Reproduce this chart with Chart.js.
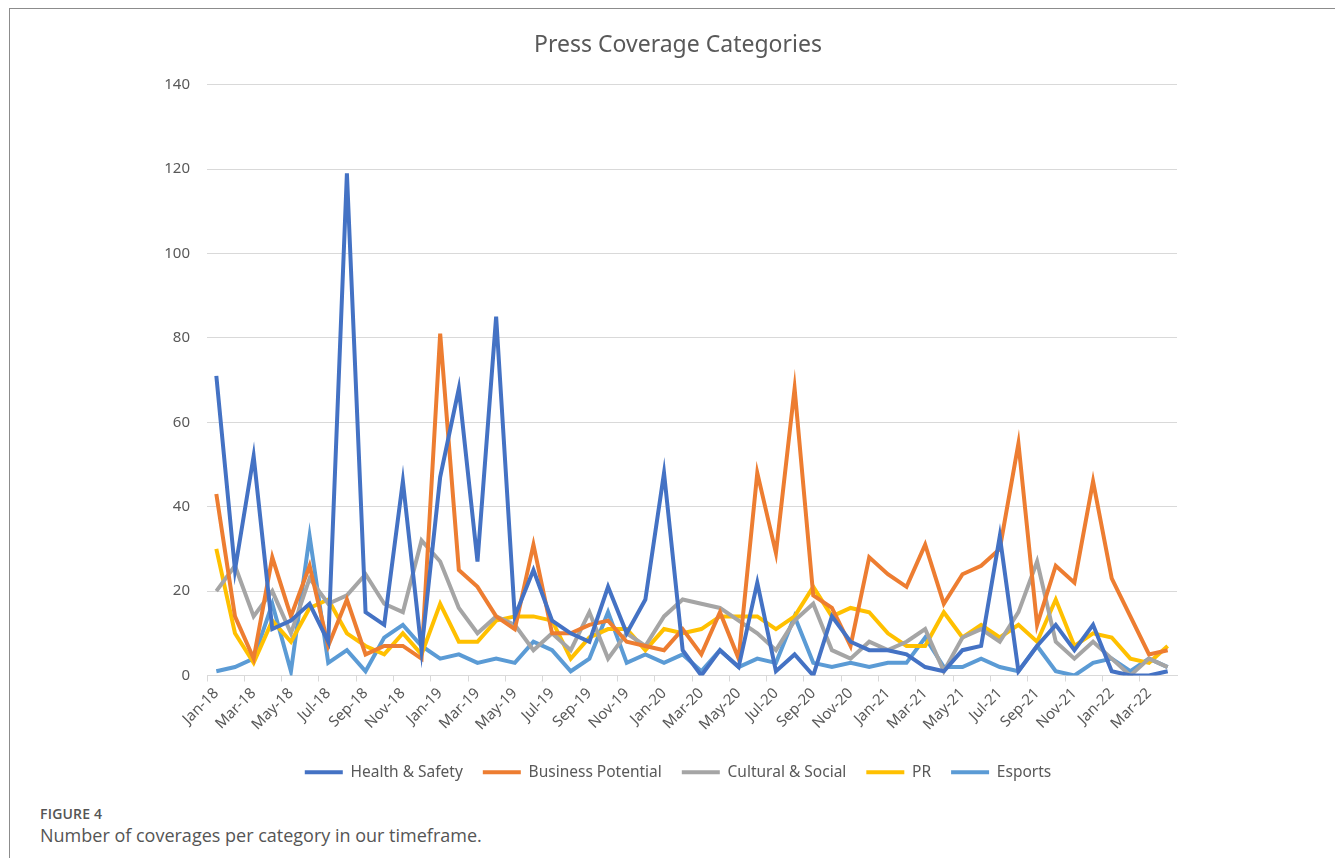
<!DOCTYPE html>
<html>
<head>
<meta charset="utf-8">
<title>Press Coverage Categories</title>
<script src="https://cdn.jsdelivr.net/npm/chart.js@4.4.1/dist/chart.umd.min.js"></script>
<style>
  html, body { margin: 0; padding: 0; background: #fff; }
  body { width: 1335px; height: 858px; position: relative; overflow: hidden; font-family: "Open Sans", "Noto Sans", sans-serif; }
  .frame { position: absolute; left: 9px; top: 8px; width: 1340px; height: 900px; border-left: 1px solid #8c8c8c; border-top: 1px solid #8c8c8c; }
  .chart-box { position: absolute; left: 150px; top: 20px; width: 1056px; height: 775px; }
  .fig-no { position: absolute; left: 40px; top: 804px; font-size: 14px; font-weight: 600; color: #555; letter-spacing: 0.2px; }
  .fig-text { position: absolute; left: 40px; top: 823px; font-size: 18px; color: #555; }
</style>
</head>
<body>
<div class="frame"></div>
<div class="chart-box"><canvas id="coverage"></canvas></div>
<div class="fig-no">FIGURE 4</div>
<div class="fig-text">Number of coverages per category in our timeframe.</div>

<script>
  // monthly counts, Jan-18 .. Apr-22
  const months = [
    "Jan-18", "Feb-18", "Mar-18", "Apr-18", "May-18", "Jun-18", "Jul-18", "Aug-18", "Sep-18", "Oct-18", "Nov-18", "Dec-18",
    "Jan-19", "Feb-19", "Mar-19", "Apr-19", "May-19", "Jun-19", "Jul-19", "Aug-19", "Sep-19", "Oct-19", "Nov-19", "Dec-19",
    "Jan-20", "Feb-20", "Mar-20", "Apr-20", "May-20", "Jun-20", "Jul-20", "Aug-20", "Sep-20", "Oct-20", "Nov-20", "Dec-20",
    "Jan-21", "Feb-21", "Mar-21", "Apr-21", "May-21", "Jun-21", "Jul-21", "Aug-21", "Sep-21", "Oct-21", "Nov-21", "Dec-21",
    "Jan-22", "Feb-22", "Mar-22", "Apr-22"
  ];

  const healthSafety = [71, 25, 52, 11, 13, 17, 8, 119, 15, 12, 46, 6, 47, 68, 27, 85, 14, 25, 13, 10, 8, 21, 10, 18, 48, 6,
    0, 6, 2, 22, 1, 5, 0, 14, 8, 6, 6, 5, 2, 1, 6, 7, 33, 1, 7, 12, 6, 12, 1, 0, 0, 1];
  const businessPotential = [43, 14, 4, 28, 14, 26, 7, 18, 5, 7, 7, 4, 81, 25, 21, 14, 11, 31, 10, 10, 12, 13, 8, 7, 6, 11,
    5, 15, 4, 48, 29, 68, 19, 16, 7, 28, 24, 21, 31, 17, 24, 26, 30, 55, 12, 26, 22, 46, 23, 14, 5, 6];
  const culturalSocial = [20, 26, 14, 20, 10, 23, 17, 19, 24, 17, 15, 32, 27, 16, 10, 14, 12, 6, 10, 6, 15, 4, 10, 7, 14, 18,
    17, 16, 13, 10, 6, 13, 17, 6, 4, 8, 6, 8, 11, 1, 9, 11, 8, 15, 27, 8, 4, 8, 4, 0, 4, 2];
  const pr = [30, 10, 3, 13, 8, 16, 18, 10, 7, 5, 10, 5, 17, 8, 8, 13, 14, 14, 13, 4, 9, 11, 11, 6, 11, 10,
    11, 14, 14, 14, 11, 14, 21, 14, 16, 15, 10, 7, 7, 15, 9, 12, 9, 12, 8, 18, 7, 10, 9, 4, 3, 7];
  const esports = [1, 2, 4, 17, 1, 33, 3, 6, 1, 9, 12, 7, 4, 5, 3, 4, 3, 8, 6, 1, 4, 15, 3, 5, 3, 5,
    1, 6, 2, 4, 3, 14, 3, 2, 3, 2, 3, 3, 9, 2, 2, 4, 2, 1, 7, 1, 0, 3, 4, 1, 4, 2];

  const yTicks = [0, 20, 40, 60, 80, 100, 120, 140];

  const textGrey = "#595959";
  const gridGrey = "#d9d9d9";
  const font = "'Noto Sans', 'Open Sans', sans-serif";

  function series(label, data, color) {
    return {
      label: label,
      data: data,
      borderColor: color,
      backgroundColor: color,
      borderWidth: 4,
      pointRadius: 0,
      pointHoverRadius: 0,
      tension: 0,
      fill: false,
    };
  }

  const ctx = document.getElementById("coverage").getContext("2d");
  new Chart(ctx, {
    type: "line",
    data: {
      labels: months,
      datasets: [
        series("Health & Safety", healthSafety, "#4472C4"),
        series("Business Potential", businessPotential, "#ED7D31"),
        series("Cultural & Social", culturalSocial, "#A5A5A5"),
        series("PR", pr, "#FFC000"),
        series("Esports", esports, "#5B9BD5"),
      ],
    },
    options: {
      responsive: true,
      maintainAspectRatio: false,
      animation: false,
      layout: {
        padding: { left: 0, right: 0, top: 0, bottom: 5 },
      },
      plugins: {
        title: {
          display: true,
          text: "Press Coverage Categories",
          color: textGrey,
          font: { family: font, size: 23, weight: "normal" },
          padding: { top: 12, bottom: 25 },
        },
        legend: {
          display: true,
          position: "bottom",
          labels: {
            color: textGrey,
            font: { family: font, size: 15.5 },
            usePointStyle: true,
            pointStyle: "line",
            pointStyleWidth: 38,
            boxHeight: 4,
            padding: 20,
          },
        },
        tooltip: { enabled: false },
      },
      scales: {
        x: {
          type: "category",
          offset: true,
          border: { display: true, color: gridGrey, width: 1 },
          grid: {
            offset: true,
            drawOnChartArea: false,
            drawTicks: true,
            tickLength: 6,
            color: (c) => (c.index % 2 === 0 ? gridGrey : "rgba(0,0,0,0)"),
          },
          ticks: {
            autoSkip: false,
            maxRotation: 45,
            minRotation: 45,
            padding: 3,
            color: textGrey,
            font: { family: font, size: 15 },
            callback: function (value, index) {
              return index % 2 === 0 ? this.getLabelForValue(value) : "";
            },
          },
          afterFit: (scale) => { scale.height = 69; },
        },
        y: {
          min: 0,
          max: 140,
          border: { display: false },
          grid: { color: gridGrey, lineWidth: 1, drawTicks: false },
          afterBuildTicks: (scale) => { scale.ticks = yTicks.map((v) => ({ value: v })); },
          ticks: {
            padding: 17,
            color: textGrey,
            font: { family: font, size: 15 },
          },
          afterFit: (scale) => { scale.width = 57; },
        },
        // empty right-hand spacer so the title and legend sit centred over the page
        spacer: {
          type: "linear",
          position: "right",
          display: true,
          border: { display: false },
          grid: { display: false },
          ticks: { display: false },
          afterFit: (scale) => { scale.width = 29; },
        },
      },
    },
  });
</script>
</body>
</html>
